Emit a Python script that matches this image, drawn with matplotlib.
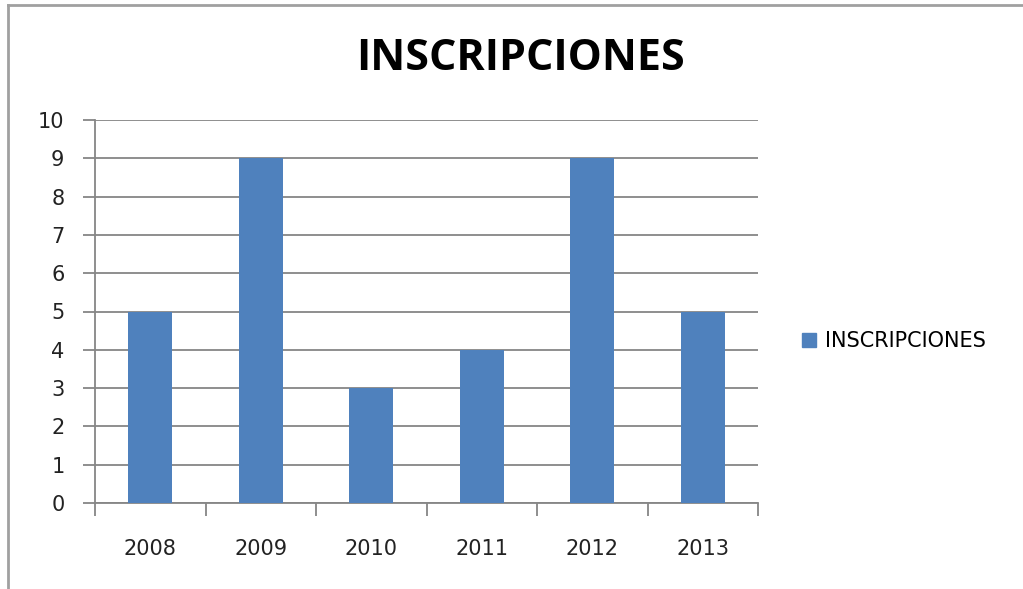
import numpy as np
import matplotlib.pyplot as plt
from matplotlib.lines import Line2D

# data
years = ["2008", "2009", "2010", "2011", "2012", "2013"]
inscripciones = [5, 9, 3, 4, 9, 5]
y_ticks = list(range(0, 11))

bar_color = "#4f81bd"
grid_color = "#868686"

fig = plt.figure(figsize=(10.23, 5.89), dpi=100)
ax = fig.add_axes([95 / 1023, 1 - 503 / 589, (758 - 95) / 1023, (503 - 120) / 589])

x = np.arange(len(years))
ax.bar(x, inscripciones, width=0.4, color=bar_color, zorder=3, label="INSCRIPCIONES")

ax.set_xlim(-0.5, len(years) - 0.5)
ax.set_ylim(0, 10)
ax.set_yticks(y_ticks)
ax.set_xticks(x)
ax.set_xticklabels(years)
ax.set_xticks(np.arange(-0.5, len(years)), minor=True)

ax.yaxis.grid(True, color=grid_color, linewidth=1.3, zorder=0)
for s in ["top", "right"]:
    ax.spines[s].set_visible(False)
for s in ["left", "bottom"]:
    ax.spines[s].set_color(grid_color)
    ax.spines[s].set_linewidth(1.3)

ax.tick_params(axis="y", direction="out", length=9, width=1.3, color=grid_color,
               labelsize=15, labelcolor="#222222", pad=13)
ax.tick_params(axis="x", which="major", length=0, labelsize=15, labelcolor="#222222", pad=26)
ax.tick_params(axis="x", which="minor", direction="out", length=9, width=1.3, color=grid_color)
for lab in ax.get_xticklabels() + ax.get_yticklabels():
    lab.set_fontfamily("DejaVu Sans")

fig.text(520 / 1023, 1 - 58 / 589, "INSCRIPCIONES", ha="center", va="center",
         fontsize=31, fontweight="bold", family="Open Sans")

handle = Line2D([], [], marker="s", linestyle="none", markersize=10,
                markerfacecolor=bar_color, markeredgecolor=bar_color)
fig.legend([handle], ["INSCRIPCIONES"], loc="center left",
           bbox_to_anchor=(769 / 1023, 1 - 341 / 589), frameon=False,
           handletextpad=-0.2, prop={"family": "DejaVu Sans", "size": 15})

# outer chart frame
fig.add_artist(Line2D([8 / 1023, 8 / 1023], [0, 1 - 5 / 589], color="#a0a0a0", linewidth=2))
fig.add_artist(Line2D([8 / 1023, 1], [1 - 5 / 589, 1 - 5 / 589], color="#a0a0a0", linewidth=2))

fig.savefig("out.png", dpi=100)
